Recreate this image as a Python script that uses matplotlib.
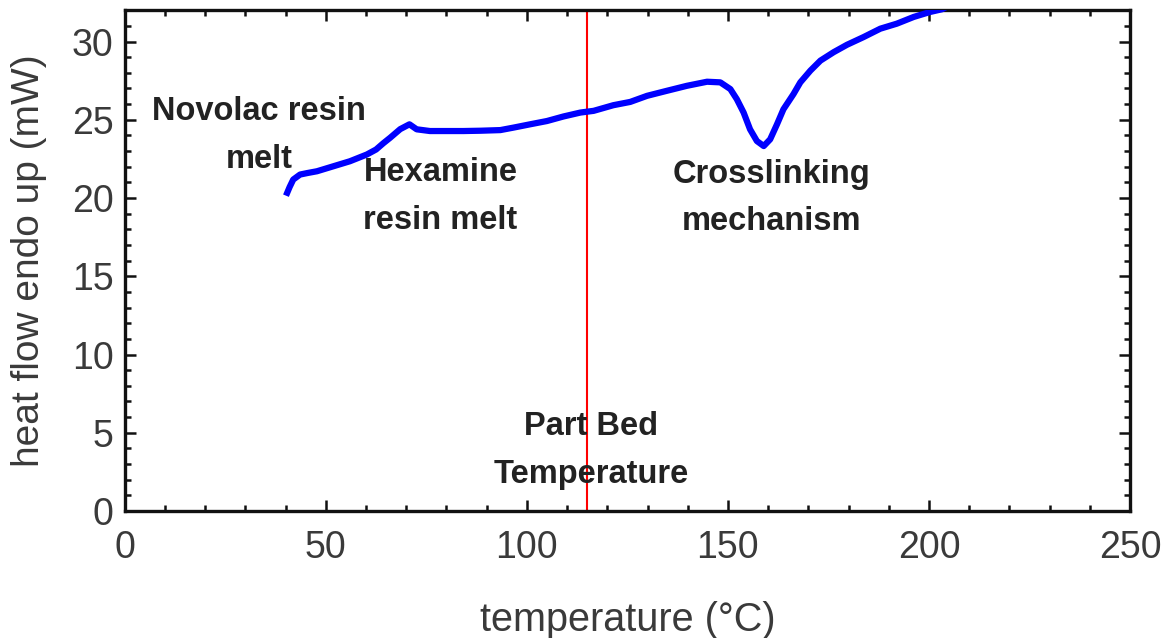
import matplotlib.pyplot as plt
from matplotlib.ticker import MultipleLocator

# DSC trace
temperature = [40.1, 41.0, 41.9, 43.6, 45.5, 47.8, 51.9, 56.0, 60.2, 62.5, 64.3,
               66.0, 68.5, 70.8, 72.6, 75.9, 80.0, 84.2, 88.5, 93.4, 96.7, 100.8,
               105.0, 109.1, 113.3, 116.6, 121.5, 125.7, 129.9, 134.8, 139.8,
               144.8, 148.1, 150.6, 152.2, 153.9, 155.5, 157.2, 158.9, 160.5,
               162.2, 163.8, 166.3, 168.0, 170.5, 173.0, 176.3, 179.6, 183.7,
               187.9, 192.0, 196.2, 200.3, 203.2, 205.0]
heat_flow = [20.15, 20.7, 21.18, 21.5, 21.6, 21.71, 22.03, 22.35, 22.78, 23.1, 23.5,
             23.85, 24.4, 24.71, 24.39, 24.28, 24.28, 24.28, 24.3, 24.34, 24.5, 24.71,
             24.92, 25.21, 25.46, 25.57, 25.93, 26.14, 26.53, 26.85, 27.17,
             27.43, 27.39, 26.96, 26.32, 25.46, 24.39, 23.64, 23.32, 23.75,
             24.71, 25.67, 26.64, 27.39, 28.14, 28.78, 29.32, 29.79, 30.28,
             30.82, 31.14, 31.57, 31.89, 32.06, 32.3]

bed_temperature = 115

notes = ["Novolac resin\nmelt", "Hexamine\nresin melt",
         "Crosslinking\nmechanism", "Part Bed\nTemperature"]
note_x = [33.4, 78.5, 160.8, 116.0]
note_y = [24.0, 20.1, 20.0, 3.85]

plt.rcParams['font.family'] = ['Liberation Sans', 'DejaVu Sans']

fig = plt.figure(figsize=(11.69, 6.38), dpi=100)
ax = fig.add_axes([0.1067, 0.199, 0.86, 0.785])

ax.plot(temperature, heat_flow, color="#0000ff", linewidth=4.5,
        solid_capstyle="butt", zorder=3)
ax.axvline(bed_temperature, color="#ff0000", linewidth=1.5, zorder=2)

for text, x, y in zip(notes, note_x, note_y):
    ax.text(x, y, text, ha="center", va="center", fontsize=23.5,
            fontweight="bold", color="#222222", linespacing=1.7)

ax.set_xlim(0, 250)
ax.set_ylim(0, 32)
ax.xaxis.set_major_locator(MultipleLocator(50))
ax.xaxis.set_minor_locator(MultipleLocator(10))
ax.yaxis.set_major_locator(MultipleLocator(5))
ax.yaxis.set_minor_locator(MultipleLocator(1))

for spine in ax.spines.values():
    spine.set_linewidth(2.4)
    spine.set_color("#111111")

ax.tick_params(which="both", direction="in", top=True, right=True,
               color="#111111", width=1.8)
ax.tick_params(which="major", length=8, labelsize=27, labelcolor="#3a3a3a")
ax.tick_params(which="minor", length=4)
ax.tick_params(axis="x", which="major", pad=14)
ax.tick_params(axis="y", which="major", pad=8)

ax.set_xlabel("temperature (°C)", fontsize=28.5, color="#3a3a3a")
ax.set_ylabel("heat flow endo up (mW)", fontsize=28, color="#3a3a3a")
ax.xaxis.set_label_coords(0.5, -0.18)
ax.yaxis.set_label_coords(-0.077, 0.5)

fig.savefig("out.png", dpi=100)
